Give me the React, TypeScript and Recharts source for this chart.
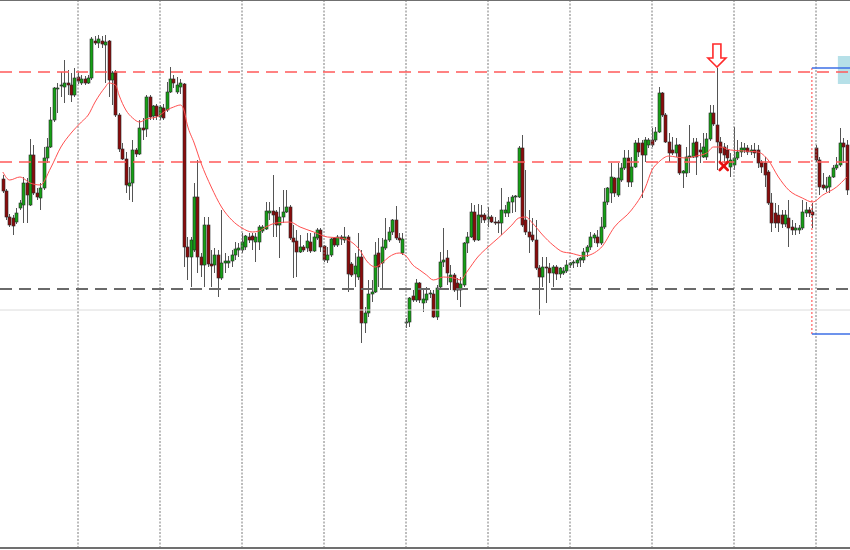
import {
  Bar,
  ComposedChart,
  Line,
  ReferenceArea,
  ReferenceDot,
  ReferenceLine,
  XAxis,
  YAxis,
} from 'recharts'

// H1 candles, prices in points (no price scale is visible in the screenshot)
const open = [
  369, 357, 331, 330, 326, 340, 343, 365, 343, 393, 355, 350, 360, 390, 401, 428, 459, 462, 461, 465,
  463, 453, 471, 465, 469, 465, 470, 507, 505, 507, 503, 507, 468, 476, 433, 399, 389, 362, 365, 398,
  394, 420, 419, 451, 432, 442, 431, 440, 438, 456, 469, 456, 461, 464, 301, 291, 298, 351, 291, 283,
  323, 284, 283, 293, 270, 285, 285, 287, 293, 298, 298, 301, 311, 312, 306, 306, 317, 319, 335, 337,
  336, 323, 331, 336, 341, 310, 307, 296, 301, 300, 306, 297, 310, 318, 302, 288, 293, 310, 303, 311,
  308, 311, 284, 274, 271, 291, 225, 235, 254, 256, 295, 285, 300, 308, 316, 328, 310, 295, 225, 226,
  252, 248, 265, 245, 248, 254, 254, 231, 261, 286, 290, 266, 273, 265, 258, 263, 305, 311, 336, 308,
  333, 333, 329, 331, 326, 326, 325, 335, 335, 346, 351, 351, 400, 328, 316, 313, 308, 280, 271, 281,
  280, 275, 281, 274, 275, 277, 283, 285, 285, 288, 288, 296, 301, 310, 311, 305, 321, 346, 355, 370,
  353, 368, 380, 390, 366, 381, 405, 405, 393, 403, 408, 408, 416, 455, 433, 406, 398, 395, 403, 375,
  375, 391, 391, 406, 398, 391, 391, 409, 435, 423, 406, 401, 398, 381, 383, 390, 396, 398, 400, 396,
  398, 398, 386, 385, 376, 345, 335, 333, 333, 324, 330, 321, 318, 318, 320, 335, 338, 336, 400, 388,
  363, 360, 361, 371, 380, 383, 405, 403,
]
const high = [
  373, 359, 334, 333, 340, 348, 371, 370, 409, 403, 360, 365, 401, 410, 441, 461, 465, 476, 488, 478,
  475, 480, 476, 473, 472, 473, 511, 512, 513, 512, 513, 508, 477, 478, 435, 405, 396, 381, 408, 400,
  428, 430, 453, 453, 443, 444, 443, 444, 466, 481, 473, 471, 469, 465, 311, 311, 365, 388, 295, 331,
  331, 298, 300, 298, 338, 295, 292, 298, 306, 305, 315, 313, 315, 315, 315, 323, 323, 346, 346, 373,
  338, 341, 358, 358, 343, 323, 318, 313, 303, 315, 315, 315, 320, 320, 303, 301, 310, 311, 313, 313,
  321, 313, 286, 295, 315, 298, 241, 268, 268, 306, 310, 310, 330, 321, 329, 342, 315, 315, 230, 251,
  258, 269, 266, 258, 261, 258, 258, 263, 296, 320, 298, 283, 275, 270, 271, 306, 316, 345, 343, 344,
  343, 335, 341, 333, 331, 328, 360, 343, 351, 353, 353, 402, 413, 378, 338, 330, 328, 283, 291, 291,
  285, 283, 283, 281, 281, 288, 286, 288, 290, 291, 300, 303, 316, 315, 318, 331, 360, 361, 385, 371,
  385, 385, 398, 398, 391, 408, 410, 408, 411, 410, 420, 421, 461, 456, 435, 415, 411, 410, 404, 378,
  401, 423, 410, 410, 405, 415, 415, 443, 443, 480, 411, 405, 403, 395, 421, 408, 406, 405, 403, 403,
  405, 403, 388, 391, 378, 355, 345, 343, 338, 338, 348, 328, 325, 323, 348, 346, 341, 345, 403, 391,
  375, 371, 373, 383, 391, 420, 410, 408,
]
const low = [
  355, 328, 321, 313, 324, 338, 325, 325, 342, 353, 348, 338, 358, 385, 400, 426, 435, 451, 445, 453,
  446, 451, 464, 463, 463, 464, 468, 503, 500, 500, 465, 451, 443, 431, 396, 388, 355, 348, 346, 391,
  393, 408, 411, 428, 428, 428, 428, 428, 436, 455, 460, 454, 454, 281, 268, 261, 296, 275, 271, 261,
  281, 261, 275, 251, 268, 275, 280, 281, 288, 291, 295, 298, 305, 298, 286, 298, 315, 318, 328, 311,
  311, 290, 325, 335, 308, 270, 271, 295, 296, 296, 295, 296, 308, 296, 286, 285, 291, 301, 301, 303,
  305, 256, 271, 261, 268, 205, 215, 231, 246, 255, 261, 260, 298, 306, 313, 308, 305, 293, 220, 221,
  246, 246, 245, 236, 245, 250, 230, 228, 260, 281, 263, 258, 256, 248, 241, 261, 295, 310, 306, 307,
  325, 325, 321, 325, 323, 315, 313, 331, 331, 335, 336, 350, 321, 313, 295, 306, 278, 233, 261, 245,
  265, 261, 268, 270, 273, 275, 280, 280, 281, 281, 285, 291, 298, 305, 301, 303, 319, 343, 345, 351,
  351, 366, 378, 361, 361, 380, 391, 350, 386, 400, 401, 406, 415, 431, 405, 386, 393, 391, 373, 360,
  371, 375, 390, 373, 385, 390, 388, 407, 422, 378, 386, 385, 385, 371, 378, 388, 391, 395, 393, 393,
  390, 380, 375, 361, 343, 316, 320, 316, 320, 321, 301, 313, 313, 314, 318, 331, 331, 320, 386, 353,
  358, 356, 355, 370, 378, 381, 385, 353,
]
const close = [
  357, 331, 323, 322, 335, 345, 365, 353, 393, 355, 351, 360, 390, 401, 428, 460, 460, 463, 465, 463,
  453, 470, 467, 469, 465, 470, 509, 505, 509, 504, 506, 468, 475, 433, 399, 389, 363, 365, 398, 394,
  420, 418, 451, 431, 442, 432, 441, 430, 456, 469, 465, 463, 465, 301, 291, 308, 351, 291, 283, 323,
  284, 282, 293, 270, 285, 287, 287, 293, 299, 300, 306, 312, 308, 308, 311, 321, 321, 337, 337, 333,
  323, 331, 336, 341, 310, 306, 296, 301, 298, 307, 297, 311, 318, 301, 288, 293, 309, 303, 311, 309,
  311, 274, 273, 282, 291, 225, 235, 254, 256, 293, 281, 301, 308, 316, 328, 310, 308, 309, 226, 250,
  248, 265, 248, 249, 254, 255, 231, 260, 286, 288, 275, 273, 258, 258, 264, 305, 311, 336, 308, 333,
  331, 328, 331, 326, 325, 325, 338, 338, 346, 351, 352, 400, 323, 316, 311, 308, 280, 271, 281, 280,
  275, 281, 274, 280, 277, 283, 285, 286, 288, 290, 296, 301, 311, 313, 305, 321, 346, 360, 371, 355,
  370, 380, 390, 366, 381, 405, 396, 393, 408, 408, 403, 416, 455, 433, 406, 395, 395, 403, 375, 377,
  391, 392, 405, 391, 396, 401, 409, 435, 424, 406, 395, 393, 390, 388, 390, 396, 400, 400, 396, 398,
  395, 385, 381, 373, 345, 325, 325, 325, 324, 333, 320, 318, 320, 320, 336, 338, 335, 333, 388, 361,
  360, 362, 371, 380, 383, 405, 401, 358,
]

// moving average, read at selected bars and joined
const maIndex = [
  0, 2, 5, 8, 11, 14, 17, 20, 23, 25, 27, 30, 31, 33, 34, 36, 38, 40, 42, 45, 48, 50, 52, 53, 54, 56,
  58, 61, 64, 67, 70, 73, 75, 77, 80, 84, 87, 91, 95, 99, 101, 104, 107, 109, 111, 113, 116, 118, 120,
  122, 124, 126, 129, 132, 134, 136, 139, 142, 145, 149, 151, 153, 155, 158, 161, 164, 166, 170, 175,
  179, 184, 188, 190, 192, 195, 197, 200, 203, 206, 208, 210, 213, 217, 221, 224, 227, 230, 234, 237,
  240, 244, 247,
]
const maValue = [
  376, 368, 371, 365, 363, 380, 401, 415, 426, 433, 446, 461, 465, 463, 453, 438, 430, 426, 429, 431,
  438, 441, 443, 438, 423, 405, 385, 361, 341, 328, 320, 316, 317, 321, 325, 326, 321, 316, 311, 310,
  308, 300, 285, 281, 285, 291, 295, 292, 283, 278, 273, 268, 271, 270, 268, 277, 291, 301, 310, 323,
  330, 331, 325, 313, 303, 296, 295, 292, 300, 321, 338, 360, 378, 386, 392, 391, 390, 392, 395, 401,
  401, 398, 397, 396, 388, 371, 358, 350, 346, 353, 361, 371,
]

const daySeparators = [22, 46, 70, 94, 118, 142, 166, 190, 214, 238]

const resistance = 476
const pivot = 386
const support = 259
const bidLevel = 238

const boxStart = 236.8
const boxTop = 480
const boxBottom = 214
const xMin = -0.83
const xMax = 247.95

const sellSignalBar = 209
const closeMarkBar = 211
const closeMarkPrice = 382

const BULL = '#16a016'
const BEAR = '#8a0c0c'

type Row = {
  i: number
  range: [number, number]
  open: number
  high: number
  low: number
  close: number
  ma: number | null
}

const rows: Row[] = open.map((o, i) => ({
  i,
  range: [low[i], high[i]],
  open: o,
  high: high[i],
  low: low[i],
  close: close[i],
  ma: null,
}))
maIndex.forEach((idx, k) => {
  rows[idx].ma = maValue[k]
})

function Candle(props: any) {
  const { x, y, width, height, payload } = props
  if (!payload || height == null) return null
  const span = payload.high - payload.low || 1
  const toPx = (v: number) => y + ((payload.high - v) / span) * height
  const cx = Math.round(x + width / 2)
  const up = payload.close >= payload.open
  const top = toPx(Math.max(payload.open, payload.close))
  const bottom = toPx(Math.min(payload.open, payload.close))
  return (
    <g>
      <line x1={cx + 0.5} x2={cx + 0.5} y1={y} y2={y + height} stroke="#555" strokeWidth={1} />
      <rect
        x={cx - 1}
        y={top}
        width={3}
        height={Math.max(bottom - top, 1)}
        fill={up ? BULL : BEAR}
        stroke="#2a2a2a"
        strokeWidth={0.6}
      />
    </g>
  )
}

function SellArrow({ cx, cy }: any) {
  const t = cy - 1
  const d = `M${cx},${t} L${cx - 9},${cy - 10} L${cx - 4},${cy - 10} L${cx - 4},${cy - 24} L${cx + 4},${cy - 24} L${cx + 4},${cy - 10} L${cx + 9},${cy - 10} Z`
  return <path d={d} fill="#fff" stroke="#ff2a2a" strokeWidth={1.6} />
}

function CloseMark({ cx, cy }: any) {
  return (
    <g stroke="#e81010" strokeWidth={2.6} strokeLinecap="round">
      <line x1={cx - 4} y1={cy - 4} x2={cx + 4} y2={cy + 4} />
      <line x1={cx - 4} y1={cy + 4} x2={cx + 4} y2={cy - 4} />
    </g>
  )
}

export default function App() {
  return (
    <div style={{ position: 'absolute', left: 0, top: 0, width: 850, height: 550, background: '#fff' }}>
      <ComposedChart
        width={850}
        height={550}
        data={rows}
        margin={{ top: 0, right: 0, bottom: 2, left: 0 }}
      >
        <XAxis dataKey="i" type="number" domain={[xMin, xMax]} allowDataOverflow hide />
        <YAxis type="number" domain={[0, 548]} allowDataOverflow hide />

        {daySeparators.map((d) => (
          <ReferenceLine key={d} x={d} stroke="#7a7a7a" strokeDasharray="2 1.5" />
        ))}
        <ReferenceLine y={bidLevel} stroke="#dcdcdc" />
        <ReferenceLine y={0} stroke="#707070" strokeWidth={2} />
        <ReferenceLine y={548} stroke="#707070" strokeWidth={2} />

        <Bar dataKey="range" barSize={3} shape={Candle} isAnimationActive={false} />
        <Line
          dataKey="ma"
          type="monotone"
          stroke="#ff5050"
          strokeWidth={1}
          dot={false}
          activeDot={false}
          connectNulls
          isAnimationActive={false}
        />

        <ReferenceLine y={resistance} stroke="#ff5a5a" strokeWidth={1.5} strokeDasharray="12 7" />
        <ReferenceLine y={pivot} stroke="#ff5a5a" strokeWidth={1.5} strokeDasharray="12 7" />
        <ReferenceLine y={support} stroke="#6a6a6a" strokeWidth={2} strokeDasharray="12 7" />

        <ReferenceLine
          segment={[
            { x: boxStart, y: boxTop },
            { x: boxStart, y: boxBottom },
          ]}
          stroke="#ff4040"
          strokeDasharray="2 2"
        />
        <ReferenceLine
          segment={[
            { x: boxStart, y: boxTop },
            { x: xMax, y: boxTop },
          ]}
          stroke="#3c6fe6"
          strokeWidth={1.5}
        />
        <ReferenceLine
          segment={[
            { x: boxStart, y: boxBottom },
            { x: xMax, y: boxBottom },
          ]}
          stroke="#3c6fe6"
          strokeWidth={1.5}
        />
        <ReferenceArea x1={244.4} x2={xMax} y1={464} y2={492} fill="#a9dbe4" fillOpacity={0.85} stroke="none" />

        <ReferenceDot x={sellSignalBar} y={high[sellSignalBar]} shape={SellArrow} />
        <ReferenceDot x={closeMarkBar} y={closeMarkPrice} shape={CloseMark} />
      </ComposedChart>
    </div>
  )
}
